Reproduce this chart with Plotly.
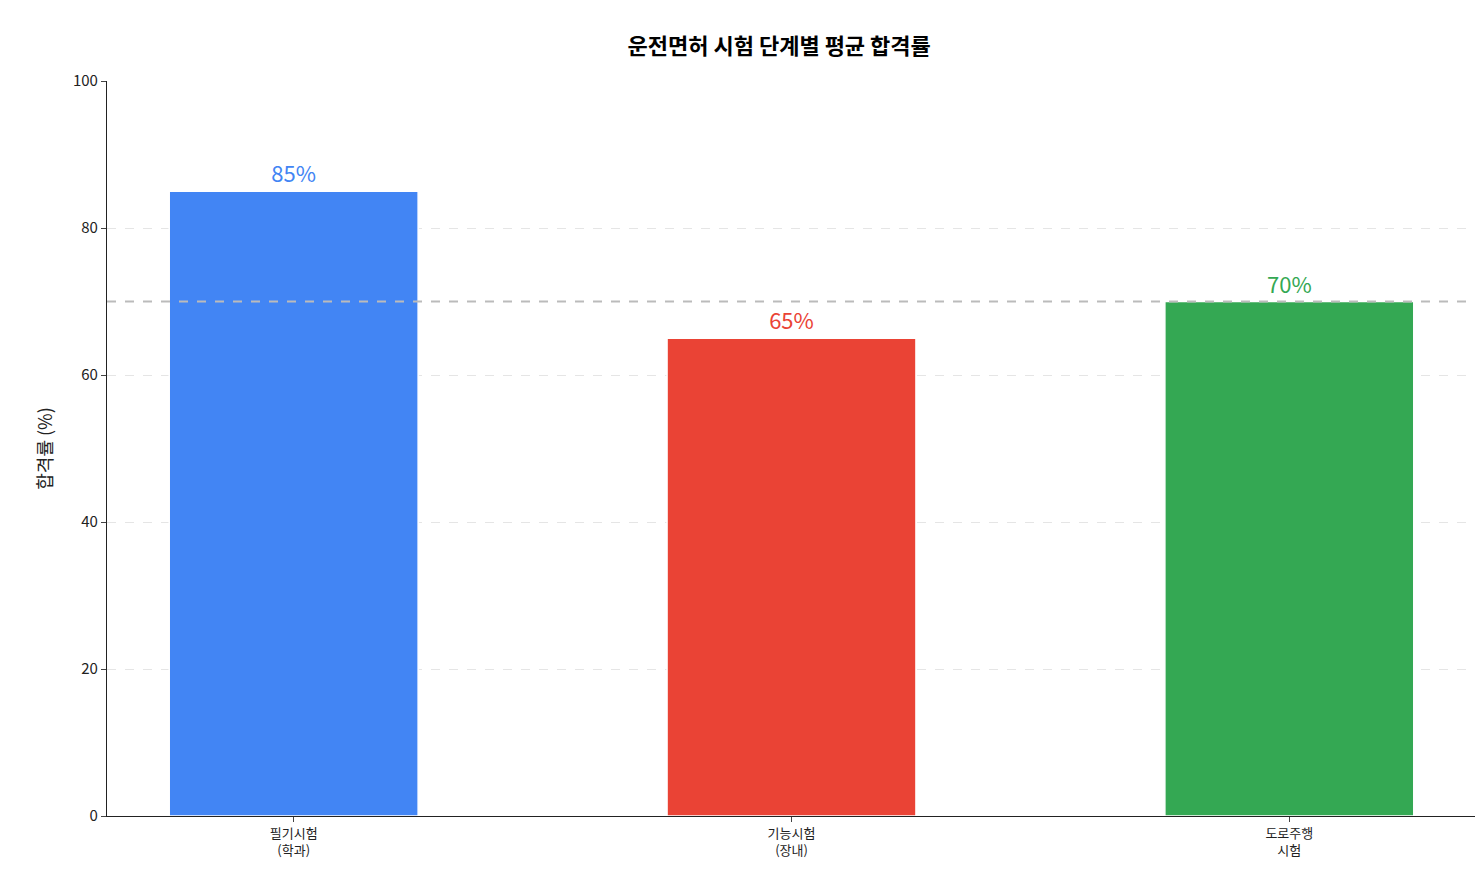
import plotly.graph_objects as go

stages = ["필기시험<br>(학과)", "기능시험<br>(장내)", "도로주행<br>시험"]
pass_rates = [85, 65, 70]
colors = ["#4285F4", "#EA4335", "#34A853"]
avg_line = 70

fig = go.Figure()
fig.add_trace(go.Bar(
    x=[0, 1, 2], y=pass_rates, width=0.5,
    marker=dict(color=colors, line=dict(color="white", width=1.5)),
    text=[f"{v}%" for v in pass_rates], textposition="outside",
    textfont=dict(size=22, color=colors, family="Noto Sans CJK KR"),
    cliponaxis=False, showlegend=False,
))
fig.add_hline(y=avg_line, line=dict(color="#BBBBBB", width=2, dash="dash"))

fig.update_layout(
    width=1483, height=883,
    paper_bgcolor="white", plot_bgcolor="white",
    font=dict(family="Noto Sans CJK KR", size=13, color="#222222"),
    title=dict(text="<b>운전면허 시험 단계별 평균 합격률</b>", x=0.52, y=0.965,
               xanchor="center", font=dict(size=22, color="black")),
    margin=dict(l=99, r=15, t=73, b=75),
    bargap=0.5,
)
fig.update_xaxes(
    range=[-0.375, 2.375], tickvals=[0, 1, 2], ticktext=stages,
    showline=True, linecolor="#222222", linewidth=1.2,
    ticks="outside", ticklen=5, showgrid=False, zeroline=False,
)
fig.update_yaxes(
    range=[0, 100], tickvals=[0, 20, 40, 60, 80, 100],
    title=dict(text="합격률 (%)", font=dict(size=18)),
    showline=True, linecolor="#222222", linewidth=1.2,
    ticks="outside", ticklen=5,
    showgrid=True, gridcolor="#E5E5E5", griddash="dash", zeroline=False,
    tickfont=dict(size=15),
)
fig.write_html("out.html")
